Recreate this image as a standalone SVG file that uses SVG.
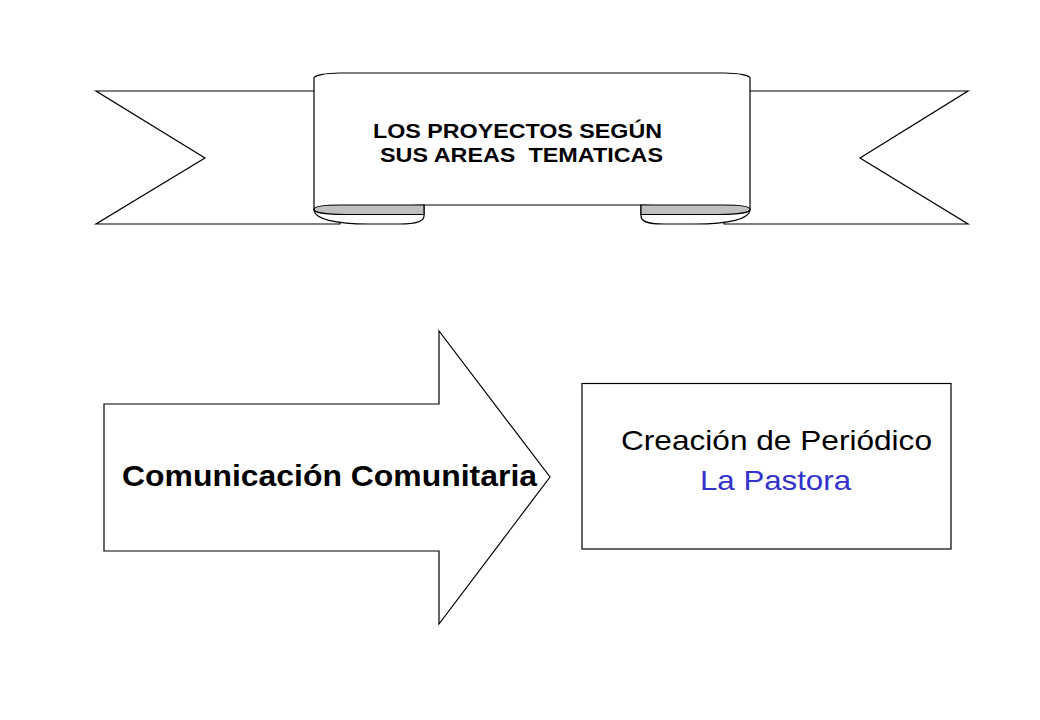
<svg xmlns="http://www.w3.org/2000/svg" width="1040" height="720" viewBox="0 0 1040 720">
<style>
.ln{fill:#fff;stroke:#000;stroke-width:1.2;stroke-linejoin:miter}
.gr{fill:#c0c0c0;stroke:#000;stroke-width:1.2}
.t{font-family:"Liberation Sans",Arial,sans-serif}
</style>
<rect width="1040" height="720" fill="#fff"/>
<g id="banner">
  <polygon class="ln" points="96,91 340,91 340,224 96,224 205,158"/>
  <polygon class="ln" points="968,91 724,91 724,224 968,224 860,158"/>
  <path class="ln" d="M314,209.5 C314,219 335,224 369,224 L400,224 C418,224 424,221 424,216 L424,205 Z"/>
  <path class="ln" d="M750,209.5 C750,219 729,224 695,224 L664,224 C646,224 641,221 641,216 L641,205 Z"/>
  <path class="ln" d="M314,209.5 L314,78 C314,75.5 325,73 340,73 L724,73 C739,73 750,75.5 750,78 L750,209.5 L641,205 L424,205 Z"/>
  <path class="gr" d="M424,205 L340,205 C322,205 314,207 314,209.5 C314,212 324,214.5 345,214.5 L424,214.5 Z"/>
  <path class="gr" d="M641,205 L724,205 C742,205 750,207 750,209.5 C750,212 740,214.5 719,214.5 L641,214.5 Z"/>
  <text class="t" x="373" y="138" font-size="20" font-weight="bold" textLength="289" lengthAdjust="spacingAndGlyphs">LOS PROYECTOS SEGÚN</text>
  <text class="t" x="380" y="161.5" font-size="20" font-weight="bold" textLength="283" lengthAdjust="spacingAndGlyphs" xml:space="preserve">SUS AREAS  TEMATICAS</text>
</g>
<g id="arrow">
  <polygon class="ln" points="104,404 439,404 439,331 550,477 439,624 439,551 104,551"/>
  <text class="t" x="122" y="486" font-size="29.5" font-weight="bold" textLength="415" lengthAdjust="spacingAndGlyphs">Comunicación Comunitaria</text>
</g>
<g id="box">
  <rect class="ln" x="582" y="383.5" width="369" height="165.5"/>
  <text class="t" x="621" y="450" font-size="28" textLength="311" lengthAdjust="spacingAndGlyphs">Creación de Periódico</text>
  <text class="t" x="700" y="490" font-size="28" fill="#3333cc" textLength="151" lengthAdjust="spacingAndGlyphs">La Pastora</text>
</g>
<g id="connectors"></g>
</svg>
